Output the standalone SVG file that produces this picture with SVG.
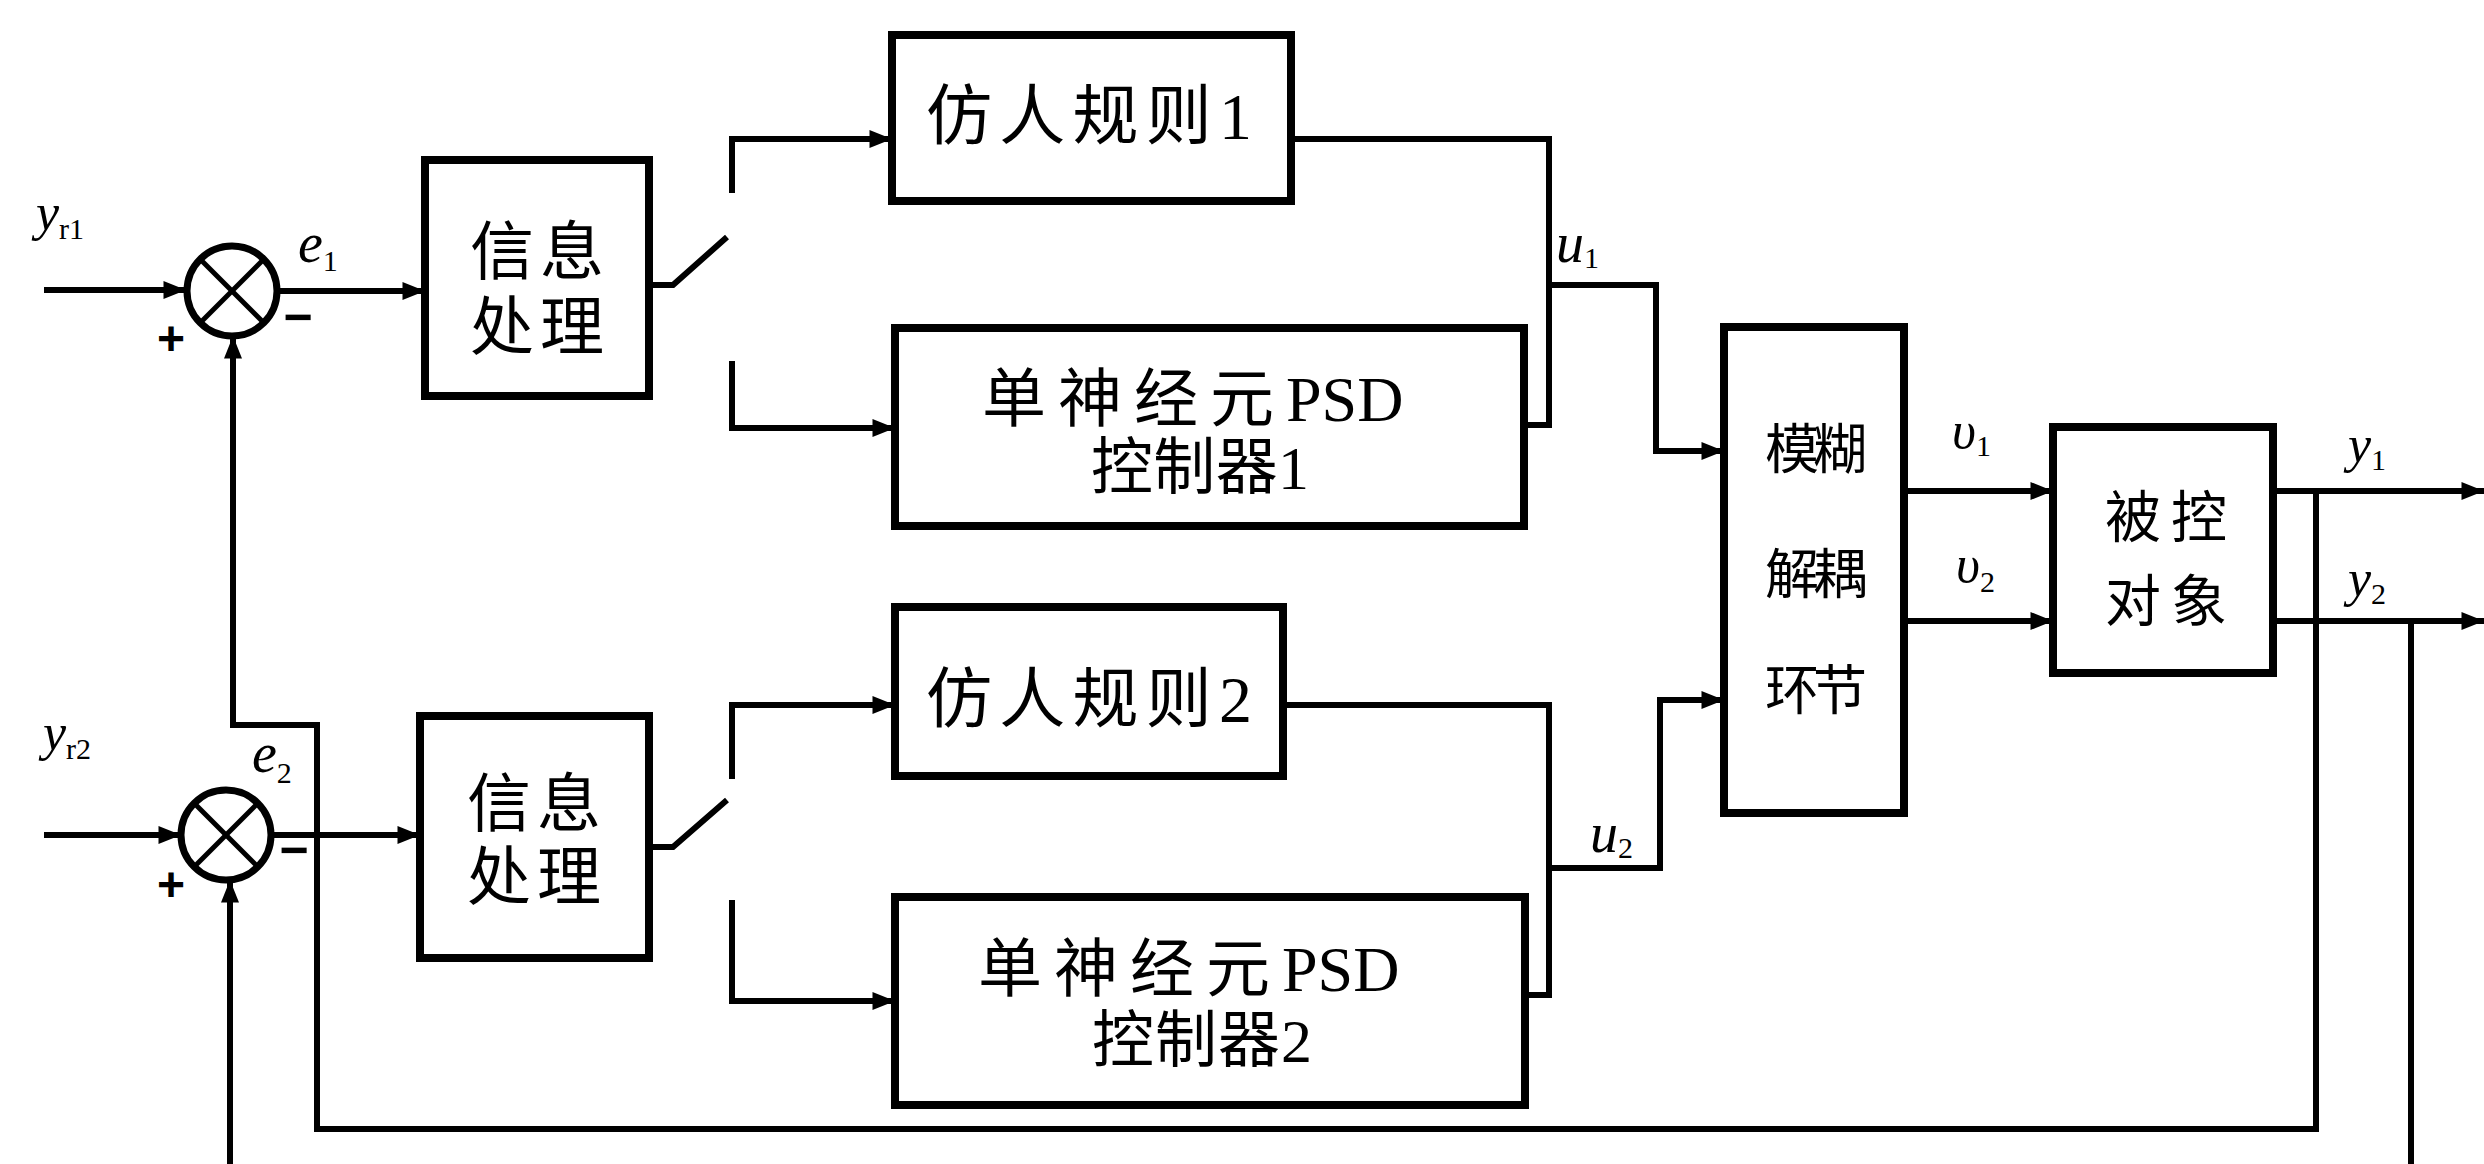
<svg xmlns="http://www.w3.org/2000/svg" width="2484" height="1164" viewBox="0 0 2484 1164">
<style>
.box{fill:none;stroke:#000;stroke-width:8}
.ln{fill:none;stroke:#000;stroke-width:6}
.sum{fill:#fff;stroke:#000;stroke-width:7}
.x{stroke:#000;stroke-width:5}
.t{font-family:"Liberation Serif","Noto Sans CJK SC",serif;fill:#000}
.it{font-family:"Liberation Serif",serif;font-style:italic;fill:#000}
.sg{font-family:"Liberation Sans",sans-serif;font-weight:bold;fill:#000}
.cj{letter-spacing:12px}
.la{letter-spacing:0px}
</style>
<defs>
<marker id="arr" viewBox="0 0 10 8" refX="10" refY="4" markerWidth="30" markerHeight="18" markerUnits="userSpaceOnUse" orient="auto">
<path d="M0,0 L10,4 L0,8 z" fill="#000"/>
</marker>
</defs>
<rect width="2484" height="1164" fill="#fff"/>

<g id="connectors">
<path class="ln" d="M44,290 H186" marker-end="url(#arr)"/>
<path class="ln" d="M277,291 H425" marker-end="url(#arr)"/>
<path class="ln" d="M649,285 H673 L727,237"/>
<path class="ln" d="M732,193 V139 H892" marker-end="url(#arr)"/>
<path class="ln" d="M732,361 V428 H895" marker-end="url(#arr)"/>
<path class="ln" d="M1291,139 H1549 V425 H1524"/>
<path class="ln" d="M1549,285 H1656 V451 H1724" marker-end="url(#arr)"/>
<path class="ln" d="M1904,491 H2053" marker-end="url(#arr)"/>
<path class="ln" d="M1904,621 H2053" marker-end="url(#arr)"/>
<path class="ln" d="M2273,491 H2484" marker-end="url(#arr)"/>
<path class="ln" d="M2273,621 H2484" marker-end="url(#arr)"/>
<path class="ln" d="M2316,491 V1129 H317 V725 H233 V336" marker-end="url(#arr)"/>
<path class="ln" d="M2411,621 V1170"/>
<path class="ln" d="M230,1170 V880" marker-end="url(#arr)"/>
<path class="ln" d="M44,835 H181" marker-end="url(#arr)"/>
<path class="ln" d="M271,835 H420" marker-end="url(#arr)"/>
<path class="ln" d="M649,847 H673 L727,800"/>
<path class="ln" d="M732,779 V705 H895" marker-end="url(#arr)"/>
<path class="ln" d="M732,900 V1001 H895" marker-end="url(#arr)"/>
<path class="ln" d="M1283,705 H1549 V995 H1525"/>
<path class="ln" d="M1549,868 H1660 V700 H1724" marker-end="url(#arr)"/>
</g>

<g id="sum1">
<circle class="sum" cx="232" cy="291" r="45"/>
<line class="x" x1="200" y1="259" x2="264" y2="323"/>
<line class="x" x1="264" y1="259" x2="200" y2="323"/>
<text class="sg" x="171" y="355" font-size="48" text-anchor="middle">+</text>
<text class="sg" x="298" y="334" font-size="50" text-anchor="middle">−</text>
</g>
<g id="sum2">
<circle class="sum" cx="226" cy="835" r="45"/>
<line class="x" x1="194" y1="803" x2="258" y2="867"/>
<line class="x" x1="258" y1="803" x2="194" y2="867"/>
<text class="sg" x="171" y="901" font-size="48" text-anchor="middle">+</text>
<text class="sg" x="294" y="867" font-size="50" text-anchor="middle">−</text>
</g>

<g id="labels">
<text class="it" x="36" y="230" font-size="52">y<tspan font-style="normal" font-size="30" dy="9">r1</tspan></text>
<text class="it" x="298" y="262" font-size="56">e<tspan font-style="normal" font-size="30" dy="9">1</tspan></text>
<text class="it" x="43" y="750" font-size="52">y<tspan font-style="normal" font-size="30" dy="9">r2</tspan></text>
<text class="it" x="252" y="772" font-size="56">e<tspan font-style="normal" font-size="30" dy="11">2</tspan></text>
<text class="it" x="1556" y="262" font-size="56">u<tspan font-style="normal" font-size="30" dy="6">1</tspan></text>
<text class="it" x="1590" y="852" font-size="56">u<tspan font-style="normal" font-size="30" dy="6">2</tspan></text>
<text class="it" x="1952" y="448" font-size="52">υ<tspan font-style="normal" font-size="30" dy="8">1</tspan></text>
<text class="it" x="1956" y="582" font-size="52">υ<tspan font-style="normal" font-size="30" dy="10">2</tspan></text>
<text class="it" x="2348" y="462" font-size="52">y<tspan font-style="normal" font-size="30" dy="8">1</tspan></text>
<text class="it" x="2348" y="596" font-size="52">y<tspan font-style="normal" font-size="30" dy="8">2</tspan></text>
</g>

<g id="info1">
<rect class="box" x="425" y="160" width="224" height="236"/>
<text class="t" x="537" y="274" font-size="64" text-anchor="middle" textLength="134" lengthAdjust="spacing">信息</text>
<text class="t" x="537" y="349" font-size="64" text-anchor="middle" textLength="134" lengthAdjust="spacing">处理</text>
</g>
<g id="info2">
<rect class="box" x="420" y="716" width="229" height="242"/>
<text class="t" x="534" y="826" font-size="64" text-anchor="middle" textLength="134" lengthAdjust="spacing">信息</text>
<text class="t" x="534" y="899" font-size="64" text-anchor="middle" textLength="134" lengthAdjust="spacing">处理</text>
</g>
<g id="rule1">
<rect class="box" x="892" y="35" width="399" height="166"/>
<text class="t" x="1089" y="139" font-size="66" text-anchor="middle" textLength="326" lengthAdjust="spacing">仿人规则1</text>
</g>
<g id="psd1">
<rect class="box" x="895" y="328" width="629" height="198"/>
<text class="t" x="982" y="421" font-size="64"><tspan class="cj">单神经元</tspan><tspan class="la">PSD</tspan></text>
<text class="t" x="1200" y="489" font-size="62" text-anchor="middle" textLength="218" lengthAdjust="spacing">控制器1</text>
</g>
<g id="rule2">
<rect class="box" x="895" y="607" width="388" height="169"/>
<text class="t" x="1089" y="722" font-size="66" text-anchor="middle" textLength="326" lengthAdjust="spacing">仿人规则2</text>
</g>
<g id="psd2">
<rect class="box" x="895" y="897" width="630" height="208"/>
<text class="t" x="978" y="991" font-size="64"><tspan class="cj">单神经元</tspan><tspan class="la">PSD</tspan></text>
<text class="t" x="1202" y="1062" font-size="62" text-anchor="middle" textLength="220" lengthAdjust="spacing">控制器2</text>
</g>
<g id="decouple">
<rect class="box" x="1724" y="327" width="180" height="486"/>
<text class="t" x="1816" y="469" font-size="54" text-anchor="middle" textLength="102" lengthAdjust="spacing">模糊</text>
<text class="t" x="1816" y="594" font-size="54" text-anchor="middle" textLength="102" lengthAdjust="spacing">解耦</text>
<text class="t" x="1816" y="710" font-size="54" text-anchor="middle" textLength="102" lengthAdjust="spacing">环节</text>
</g>
<g id="plant">
<rect class="box" x="2053" y="427" width="220" height="246"/>
<text class="t" x="2166" y="537" font-size="56" text-anchor="middle" textLength="122" lengthAdjust="spacing">被控</text>
<text class="t" x="2166" y="621" font-size="56" text-anchor="middle" textLength="122" lengthAdjust="spacing">对象</text>
</g>
</svg>
